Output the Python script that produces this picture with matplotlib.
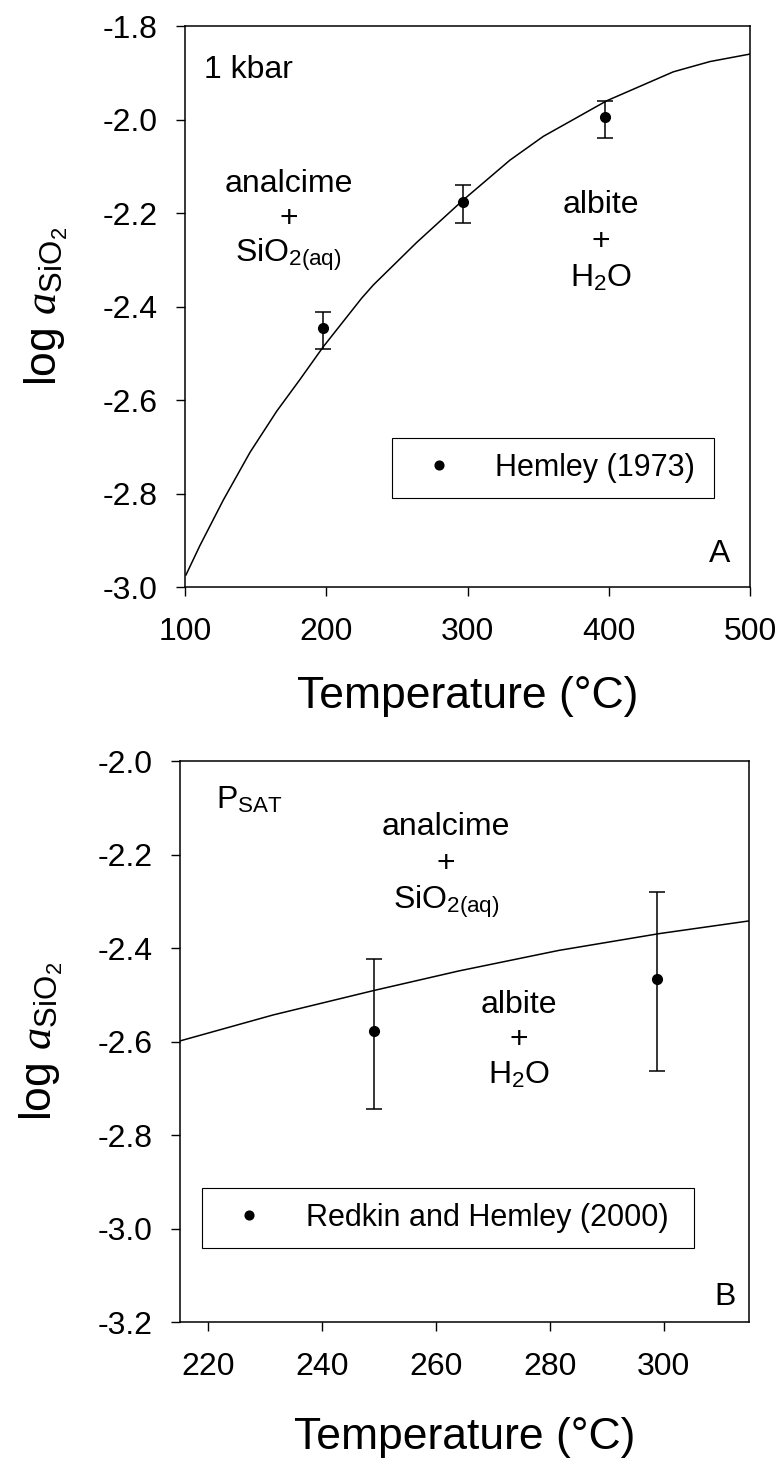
#Libraries
import numpy as np
import matplotlib
matplotlib.use('Agg')
import matplotlib.pyplot as plt

#Fonts
plt.rcParams['font.family']=['Liberation Sans','DejaVu Sans']
plt.rcParams['mathtext.fontset']='custom'
plt.rcParams['mathtext.rm']='Liberation Sans'
plt.rcParams['mathtext.it']='Liberation Serif:italic'
plt.rcParams['axes.unicode_minus']=False

#Panel A data (1 kbar)
temp_a=[100.7,110.6,127.1,146,164.9,181.4,197.9,225.1,233.3,264,297,330,353.7,372.6,398.5,445.7,471.7,500]
loga_a=[-2.974,-2.911,-2.814,-2.712,-2.624,-2.556,-2.486,-2.382,-2.354,-2.263,-2.172,-2.087,-2.036,-2.004,-1.960,-1.898,-1.876,-1.860]
hemley_t=[197.5,297,397]
hemley_y=[-2.445,-2.176,-1.995]
hemley_lo=[-2.490,-2.221,-2.040]
hemley_hi=[-2.411,-2.140,-1.960]
xticks_a=[100,200,300,400,500]
yticks_a=[-3.0,-2.8,-2.6,-2.4,-2.2,-2.0,-1.8]

#Panel B data (PSAT)
temp_b=[214.6,231.4,249,264,281.6,299.3,315]
loga_b=[-2.600,-2.543,-2.491,-2.449,-2.405,-2.369,-2.342]
redkin_t=[249.1,298.8]
redkin_y=[-2.578,-2.467]
redkin_lo=[-2.745,-2.664]
redkin_hi=[-2.424,-2.281]
xticks_b=[220,240,260,280,300]
yticks_b=[-3.2,-3.0,-2.8,-2.6,-2.4,-2.2,-2.0]

ylab=r'log $\mathit{a}_{\mathrm{SiO_2}}$'
analcime=['analcime','+',r'SiO$_{2\mathrm{(aq)}}$']
albite=['albite','+',r'H$_2$O']
tick_fs=23
ann_fs=23
lab_fs=32
leg_fs=22

fig=plt.figure(figsize=(7.79,14.61),dpi=100)
ax1=fig.add_axes([0.2375,0.5982,0.7253,0.384])
ax2=fig.add_axes([0.2311,0.0951,0.7304,0.384])

def style(ax,xt,yt):
    for s in ax.spines.values():
        s.set_linewidth(1.1)
    ax.set_xticks(xt)
    ax.set_xticklabels([str(v) for v in xt])
    ax.set_yticks(yt)
    ax.set_yticklabels(['%.1f'%v for v in yt])
    ax.tick_params(direction='out',length=6.5,width=1.0,labelsize=tick_fs)
    ax.tick_params(axis='x',pad=15)
    ax.tick_params(axis='y',pad=13)

def points(ax,t,y,lo,hi):
    y=np.array(y)
    err=[y-np.array(lo),np.array(hi)-y]
    eb=ax.errorbar(t,y,yerr=err,fmt='o',color='black',ms=7,capsize=6,elinewidth=1.1,capthick=1.1)
    return eb

def block(ax,x,baselines,lines):
    for yb,s in zip(baselines,lines):
        ax.text(x,yb,s,fontsize=ann_fs,ha='center',va='baseline',transform=ax.transAxes)

def legend(ax,handle,label,box):
    leg=ax.legend([handle],[label],loc='center',bbox_to_anchor=box,mode='expand',
                  borderaxespad=0,fancybox=False,fontsize=leg_fs,borderpad=0.5,
                  handlelength=2.1,handletextpad=0.8,markerscale=0.9,framealpha=1)
    leg.get_frame().set_edgecolor('black')
    leg.get_frame().set_linewidth(0.8)

#Panel A
ax1.plot(temp_a,loga_a,color='black',lw=1.1)
eb1=points(ax1,hemley_t,hemley_y,hemley_lo,hemley_hi)
ax1.set_xlim(100,500)
ax1.set_ylim(-3.0,-1.8)
style(ax1,xticks_a,yticks_a)
ax1.set_xlabel('Temperature (°C)',fontsize=lab_fs)
ax1.xaxis.label.set_verticalalignment('center')
ax1.xaxis.set_label_coords(0.5,-0.196)
ax1.set_ylabel(ylab,fontsize=lab_fs)
ax1.yaxis.set_label_coords(-0.204,0.5)
ax1.text(0.033,0.907,'1 kbar',fontsize=ann_fs,ha='left',va='baseline',transform=ax1.transAxes)
block(ax1,0.183,[0.7046,0.642,0.5799],analcime)
block(ax1,0.736,[0.666,0.6007,0.535],albite)
ax1.text(0.9646,0.045,'A',fontsize=ann_fs,ha='right',va='baseline',transform=ax1.transAxes)
legend(ax1,eb1[0],'Hemley (1973)',(0.3655,0.152,0.5705,0.1207))

#Panel B
ax2.plot(temp_b,loga_b,color='black',lw=1.1)
eb2=points(ax2,redkin_t,redkin_y,redkin_lo,redkin_hi)
ax2.set_xlim(215,315)
ax2.set_ylim(-3.2,-2.0)
style(ax2,xticks_b,yticks_b)
ax2.set_xlabel('Temperature (°C)',fontsize=lab_fs)
ax2.xaxis.label.set_verticalalignment('center')
ax2.xaxis.set_label_coords(0.5,-0.205)
ax2.set_ylabel(ylab,fontsize=lab_fs)
ax2.yaxis.set_label_coords(-0.202,0.5)
ax2.text(0.0633,0.916,r'P$_{\mathrm{SAT}}$',fontsize=ann_fs,ha='left',va='baseline',transform=ax2.transAxes)
block(ax2,0.4675,[0.868,0.803,0.7374],analcime)
block(ax2,0.5958,[0.5508,0.4884,0.426],albite)
ax2.text(0.977,0.0303,'B',fontsize=ann_fs,ha='right',va='baseline',transform=ax2.transAxes)
legend(ax2,eb2[0],'Redkin and Hemley (2000)',(0.0387,0.1248,0.8647,0.1207))

fig.savefig('out.png',dpi=100)
